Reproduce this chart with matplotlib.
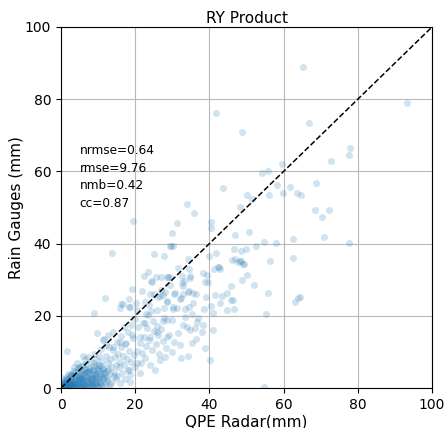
import matplotlib
matplotlib.use("Agg")
import matplotlib.pyplot as plt

# dense cluster near origin
x_dense = [0.2,0.4,0.5,0.8,0.9,1.1,1.2,1.4,1.6,1.7,1.9,2.1,2.2,2.4,2.5,2.7,2.8,3.0,0.3,0.6,1.0,1.3,0.7,1.8,2.9,0.1,0.2,3.2,3.3,3.5,
           3.6,3.8,4.0,4.1,4.3,4.4,4.6,4.8,4.9,5.1,5.2,5.4,5.5,5.7,5.8,6.0,3.9,4.5,3.4,2.6,2.0,5.3,4.2,6.1,
           6.2,6.3,6.5,6.7,6.8,7.0,7.1,7.3,7.5,7.6,7.8,8.0,8.1,8.3,8.5,8.6,8.8,9.0,9.2,9.3,9.5,9.7,9.8,10.0,6.4,7.4,5.9,8.9,
           10.2,10.4,10.6,10.8,11.0,11.2,11.4,11.6,11.9,12.1,12.3,12.5,12.7,12.9,13.1,13.3,13.6,13.8,14.0,14.2,14.5,14.7,14.9,10.9,12.0,13.0,11.5,10.3,
           15.1,15.3,15.6,15.8,16.0,16.3,16.5,16.8,17.1,17.3,17.6,17.9,18.2,18.4,18.7,19.0,19.3,19.6,19.9,16.2,18.0,15.0]
y_dense = [0.1,0.3,0.6,0.2,0.9,0.5,1.3,0.1,0.8,1.6,0.4,1.1,2.0,0.2,1.5,0.7,2.4,1.2,0.9,1.5,2.2,2.8,0.0,0.0,0.1,0.5,1.8,0.3,2.0,3.1,
           0.8,1.6,0.2,2.5,3.6,1.1,0.5,2.0,4.2,1.4,3.0,0.1,2.4,4.8,1.0,3.5,4.5,5.3,5.8,4.0,3.3,6.0,6.8,0.3,
           2.1,5.2,0.9,3.1,6.6,1.6,4.3,0.2,2.6,5.6,3.8,1.1,7.2,2.9,4.9,0.4,6.1,2.0,3.5,8.1,1.3,5.0,0.2,3.0,7.9,8.6,8.9,9.4,
           6.5,1.8,4.2,0.6,7.6,2.7,5.4,3.6,1.2,9.0,4.8,2.2,6.9,0.3,3.9,7.9,5.9,1.8,10.5,4.4,8.6,2.7,6.3,10.8,12.0,11.3,13.6,8.8,
           3.4,9.5,5.8,1.3,7.3,11.4,4.2,9.0,6.5,2.4,12.5,8.0,5.0,10.3,3.5,7.1,13.9,9.2,5.8,14.5,15.6,12.8]

# extra overlapping points in the darkest part of the cluster
x_core = [0.3,0.6,0.9,1.2,1.5,1.8,2.1,2.4,2.7,3.0,3.3,3.6,3.9,4.2,4.5,4.8,5.1,5.4,5.7,6.0,
          6.3,6.6,6.9,7.2,7.5,7.8,8.1,8.4,8.7,9.0,9.3,9.6,9.9,10.2,10.5,10.8,11.1,11.4,11.7,12.0,
          0.5,1.0,1.5,2.0,2.5,3.0,3.5,4.0,4.5,5.0,5.5,6.0,6.5,7.0,7.5,8.0,8.5,9.0,9.5,10.0,
          1.3,2.3,3.3,4.3,5.3,6.3,7.3,8.3,9.3,10.3,11.3,12.3,13.3,2.8,4.8,6.8,8.8,10.8,12.8,14.2,
          0.8,1.7,2.6,3.4,4.4,5.6,6.6,7.7,8.6,9.6,0.4,1.9,3.1,4.6,5.9,7.1,8.2,9.4,10.6,11.8]
y_core = [0.4,0.2,0.7,0.3,1.0,0.6,0.1,1.3,0.5,1.8,0.9,0.2,2.3,1.4,0.7,3.0,1.9,0.4,2.6,1.2,
          3.8,0.6,2.0,4.4,1.5,3.1,0.3,2.4,5.0,1.0,3.6,0.5,2.2,4.6,1.4,3.3,0.7,5.6,2.8,1.6,
          1.1,1.7,2.2,0.8,2.9,0.4,1.6,3.4,2.4,0.9,3.9,2.8,1.1,3.4,4.6,2.2,3.8,0.7,4.2,5.6,
          0.2,0.5,1.1,0.3,2.6,4.3,0.9,1.3,2.7,0.4,4.1,3.0,1.0,3.6,5.8,5.1,6.8,6.0,5.2,3.2,
          0.1,2.5,3.4,4.0,0.1,1.7,0.2,5.3,3.0,6.4,2.9,3.9,4.8,5.6,6.5,2.5,0.9,1.8,2.6,4.4]

# main body of the scatter
x_main = [18.6,21.3,24.0,26.7,22.6,20.4,18.1,
          20.5,21.2,21.9,22.5,23.0,23.8,24.4,25.1,25.7,26.3,27.0,27.6,28.3,29.0,29.8,20.8,22.0,23.2,24.8,26.0,21.5,25.4,28.0,30.5,31.5,32.0,22.8,20.0,19.0,17.0,14.0,12.8,
          1.7,9.0,9.8,16.2,18.6,20.2,20.6,22.6,23.5,25.8,26.2,28.5,19.1,21.3,24.0,15.9,11.4,17.3,14.1,15.9,
          41.1,40.2,38.8,34.1,32.3,38.4,33.0,33.9,34.8,36.1,38.1,36.4,35.2,36.6,37.0,33.4,27.8,27.6,28.5,29.8,24.2,26.0,28.7,30.3,31.3,35.7,35.2,33.4,
          24.0,25.1,27.6,26.7,30.7,32.3,34.3,35.7,24.4,32.7,33.0,41.3,42.4,42.9,46.2,47.7,49.3,34.6,34.8,28.6,29.4,45.8,42.9,46.7,44.8,40.4,41.1,38.6,
          34.0,35.9,19.5,31.3,29.8,13.7,29.6,25.0,27.8,34.1,31.6,23.5,22.5,25.6,27.0,28.8,24.3,32.5,33.1,34.9,29.4,26.9,19.1,21.8,28.1,30.5,32.8,34.5,36.3,
          26.2,28.7,32.1,11.9,18.4,16.6,22.6,23.7,27.8,30.3,18.4,34.4,29.4,30.1,
          43.6,40.4,40.4,46.9,46.6,41.8,39.8,46.9,48.2,42.5,38.4,39.3,38.7,39.7,45.8,41.5,43.3,44.7,39.1,46.4,
          54.3,55.7,58.3,61.6,50.0,56.1,59.8,63.7,64.6,51.5,48.2,50.8,54.7,57.9,62.5,52.6,49.9,48.5,56.3,62.5,48.5,49.1,50.0,48.7,52.0,55.9,64.0,63.1,55.3,54.7,
          65.3,93.3,66.8,77.8,77.6,72.7,68.6,68.4,72.2,70.4,70.9,77.6,64.4,41.7,48.9,59.7]
y_main = [1.7,4.1,6.4,7.8,8.2,6.8,5.0,
          10.2,12.4,9.6,14.1,11.5,13.2,10.4,15.8,12.1,9.3,16.3,13.0,11.0,14.8,10.0,16.9,18.0,16.5,18.5,17.2,7.0,5.0,8.5,12.8,15.2,11.8,20.6,19.2,17.5,16.8,15.5,14.8,
          10.2,20.9,15.1,23.3,22.3,23.5,21.6,17.9,20.2,15.6,14.8,14.2,14.7,14.2,14.2,12.8,13.3,12.2,11.4,22.1,
          16.1,7.8,11.0,8.9,8.2,17.5,17.4,17.0,16.1,16.5,15.6,13.5,12.6,18.4,19.3,19.8,19.3,18.6,18.8,18.8,21.3,21.6,23.7,21.8,22.1,23.6,20.5,21.8,
          26.0,26.0,25.9,25.5,26.2,24.9,26.5,26.4,29.5,29.0,28.3,33.0,33.6,32.9,35.5,35.0,34.3,33.1,30.9,30.8,30.8,24.4,23.6,21.9,21.7,22.6,20.7,21.8,
          51.1,48.5,46.2,45.7,42.9,37.5,39.2,37.0,36.7,35.6,33.3,32.0,30.9,30.7,30.7,30.7,29.7,31.1,29.6,30.4,28.5,27.2,27.5,26.9,26.7,26.1,26.0,26.8,26.0,
          25.1,24.2,24.6,24.8,24.6,23.4,23.7,23.1,22.2,22.4,22.5,22.5,39.2,39.2,
          55.5,46.0,44.3,42.3,38.4,37.4,36.7,35.6,35.2,33.4,31.9,31.3,29.4,29.3,28.3,25.9,25.5,26.4,25.1,24.5,
          59.5,60.2,56.3,55.7,53.6,53.6,54.1,54.0,53.4,52.4,50.2,43.2,40.4,40.2,41.4,39.3,38.6,38.0,35.2,36.1,35.2,34.4,31.2,30.0,28.4,26.4,24.9,23.9,20.4,0.2,
          88.9,78.9,73.4,66.5,64.5,62.8,56.8,49.2,49.4,47.4,41.8,40.2,25.2,76.1,70.8,62.0]

radar = x_dense + x_core + x_main
gauges = y_dense + y_core + y_main

stat_labels = ["nrmse=0.64", "rmse=9.76", "nmb=0.42", "cc=0.87"]
stat_y = [65.9, 60.9, 56.2, 51.2]

fig = plt.figure(figsize=(4.48, 4.28), dpi=100)
ax = fig.add_axes([61/448, 1-388/428, (432-61)/448, (388-27)/428])
ax.scatter(radar, gauges, s=26, color="#1f77b4", alpha=0.2, linewidths=0)
ax.plot([0, 100], [0, 100], color="black", linestyle="--", linewidth=1.1)
ax.set_xlim(0, 100)
ax.set_ylim(0, 100)
ax.set_xticks([0, 20, 40, 60, 80, 100])
ax.set_yticks([0, 20, 40, 60, 80, 100])
ax.grid(True, color="#b8b8b8", linewidth=0.8)
ax.set_axisbelow(True)
ax.tick_params(labelsize=10)
ax.set_xlabel("QPE Radar(mm)", fontsize=11, labelpad=2)
ax.set_ylabel("Rain Gauges (mm)", fontsize=11, labelpad=1)
ax.set_title("RY Product", fontsize=11, pad=3)
for lab, yy in zip(stat_labels, stat_y):
    ax.text(5, yy, lab, fontsize=8.7, va="center", ha="left")
fig.savefig("out.png", dpi=100)
